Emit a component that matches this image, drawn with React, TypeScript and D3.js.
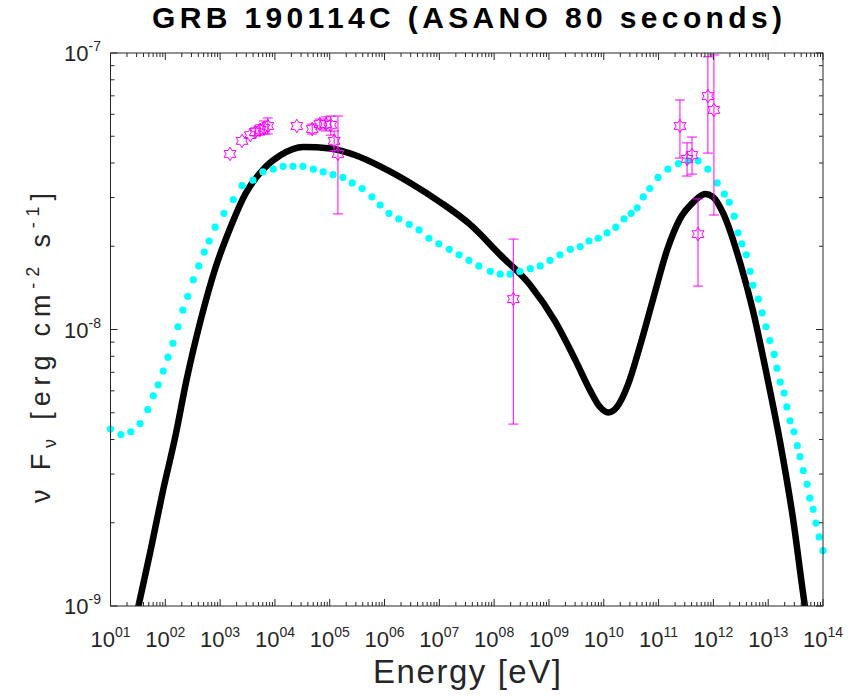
import React from "react";
import * as d3 from "d3";

// black model curve (log10 E [eV], log10 nuFnu)
const modelLogE = [1.40, 1.51, 1.73, 1.95, 2.19, 2.39, 2.64, 2.91, 3.19, 3.46, 3.79, 4.10, 4.52, 5.01, 5.47, 5.92, 6.47, 7.02, 7.56, 8.11, 8.66, 9.11, 9.48, 9.75, 9.93, 10.08, 10.24, 10.44, 10.66, 10.90, 11.16, 11.39, 11.63, 11.85, 11.99, 12.18, 12.49, 12.72, 12.98, 13.22, 13.45, 13.67, 13.75];
const modelLogF = [-9.10, -9.00, -8.80, -8.59, -8.38, -8.18, -7.97, -7.78, -7.63, -7.51, -7.42, -7.37, -7.34, -7.345, -7.37, -7.41, -7.47, -7.54, -7.62, -7.73, -7.84, -7.97, -8.11, -8.22, -8.28, -8.30, -8.28, -8.20, -8.06, -7.89, -7.71, -7.60, -7.54, -7.51, -7.52, -7.58, -7.76, -7.93, -8.17, -8.41, -8.68, -9.00, -9.10];

// cyan dotted model
const dotLogE = [1.00, 1.19, 1.37, 1.54, 1.68, 1.78, 1.87, 1.96, 2.05, 2.14, 2.23, 2.32, 2.41, 2.51, 2.61, 2.71, 2.80, 2.91, 3.07, 3.24, 3.40, 3.60, 3.78, 3.97, 4.15, 4.33, 4.51, 4.70, 4.88, 5.06, 5.24, 5.41, 5.59, 5.77, 5.92, 6.08, 6.26, 6.45, 6.63, 6.81, 6.99, 7.18, 7.36, 7.54, 7.72, 7.93, 8.11, 8.29, 8.47, 8.66, 8.84, 9.02, 9.20, 9.39, 9.57, 9.73, 9.90, 10.06, 10.22, 10.37, 10.50, 10.61, 10.72, 10.84, 10.99, 11.17, 11.36, 11.54, 11.72, 11.90, 12.07, 12.20, 12.29, 12.38, 12.45, 12.52, 12.60, 12.67, 12.72, 12.82, 12.89, 12.96, 13.03, 13.11, 13.16, 13.22, 13.29, 13.34, 13.40, 13.47, 13.53, 13.58, 13.64, 13.71, 13.76, 13.82, 13.87, 13.93, 14.00];
const dotLogF = [-8.36, -8.38, -8.37, -8.34, -8.29, -8.24, -8.20, -8.15, -8.10, -8.05, -7.99, -7.93, -7.88, -7.82, -7.77, -7.72, -7.68, -7.63, -7.58, -7.53, -7.48, -7.46, -7.43, -7.42, -7.41, -7.41, -7.41, -7.42, -7.43, -7.44, -7.45, -7.47, -7.49, -7.52, -7.55, -7.58, -7.60, -7.62, -7.64, -7.67, -7.69, -7.71, -7.73, -7.75, -7.77, -7.79, -7.80, -7.80, -7.79, -7.78, -7.77, -7.75, -7.73, -7.71, -7.70, -7.68, -7.67, -7.65, -7.63, -7.60, -7.58, -7.56, -7.52, -7.49, -7.45, -7.42, -7.40, -7.39, -7.39, -7.42, -7.47, -7.51, -7.54, -7.59, -7.65, -7.69, -7.73, -7.79, -7.84, -7.89, -7.94, -7.99, -8.04, -8.09, -8.14, -8.19, -8.23, -8.28, -8.33, -8.37, -8.42, -8.46, -8.51, -8.56, -8.61, -8.65, -8.70, -8.75, -8.80];

// observed points with error bars
const obsLogE = [3.18, 3.40, 3.55, 3.64, 3.73, 3.80, 3.87, 4.40, 4.68, 4.82, 4.93, 5.02, 5.08, 5.15, 8.35, 11.39, 11.52, 11.61, 11.72, 11.90, 12.01];
const obsLogF = [-7.365, -7.318, -7.297, -7.286, -7.278, -7.271, -7.264, -7.264, -7.275, -7.257, -7.257, -7.260, -7.318, -7.365, -7.890, -7.264, -7.383, -7.369, -7.655, -7.156, -7.206];
const obsLogHi = [-7.365, -7.318, -7.297, -7.271, -7.260, -7.246, -7.235, -7.264, -7.257, -7.239, -7.231, -7.228, -7.282, -7.228, -7.673, -7.170, -7.325, -7.304, -7.528, -7.014, -7.007];
const obsLogLo = [-7.365, -7.318, -7.297, -7.300, -7.297, -7.293, -7.293, -7.264, -7.293, -7.275, -7.282, -7.297, -7.354, -7.582, -8.342, -7.380, -7.445, -7.438, -7.843, -7.362, -7.586];

const xDecades = d3.range(1, 15);
const yDecades = [-9, -8, -7];

const W = 849;
const H = 696;
const left = 110.5;
const right = 823;
const top = 53;
const bottom = 606;

const tickColor = "#262626";
const font = "'Liberation Sans', Arial, Helvetica, sans-serif";

function hexagram(cx: number, cy: number, R: number) {
  const r = R / Math.sqrt(3);
  const pts: string[] = [];
  for (let i = 0; i < 12; i++) {
    const a = -Math.PI / 2 + (i * Math.PI) / 6;
    const rad = i % 2 === 0 ? R : r;
    pts.push(`${cx + rad * Math.cos(a)},${cy + rad * Math.sin(a)}`);
  }
  return "M" + pts.join("L") + "Z";
}

export default function App() {
  const x = d3.scaleLog().domain([1e1, 1e14]).range([left, right]);
  const y = d3.scaleLog().domain([1e-9, 1e-7]).range([bottom, top]);

  const model = modelLogE.map((e, i) => [Math.pow(10, e), Math.pow(10, modelLogF[i])]);
  const dots = dotLogE.map((e, i) => [Math.pow(10, e), Math.pow(10, dotLogF[i])]);
  const obs = obsLogE.map((e, i) => ({
    e: Math.pow(10, e),
    f: Math.pow(10, obsLogF[i]),
    hi: Math.pow(10, obsLogHi[i]),
    lo: Math.pow(10, obsLogLo[i]),
  }));

  const line = d3
    .line<number[]>()
    .x((d) => x(d[0]))
    .y((d) => y(d[1]))
    .curve(d3.curveMonotoneX);

  const xMinor: number[] = [];
  xDecades.slice(0, -1).forEach((d) => {
    for (let k = 2; k <= 9; k++) xMinor.push(k * Math.pow(10, d));
  });
  const yMinor: number[] = [];
  yDecades.slice(0, -1).forEach((d) => {
    for (let k = 2; k <= 9; k++) yMinor.push(k * Math.pow(10, d));
  });

  const pad = (n: number) => (n < 10 ? "0" + n : "" + n);

  return (
    <svg width={W} height={H} style={{ position: "absolute", left: 0, top: 0, background: "#fff" }}>
      <defs>
        <clipPath id="plotclip">
          <rect x={left} y={top} width={right - left} height={bottom - top} />
        </clipPath>
      </defs>

      {/* title */}
      <text x={467} y={28} textAnchor="middle" fontFamily={font} fontWeight="bold" fontSize={30} textLength={630} lengthAdjust="spacing" fill="#000">
        GRB 190114C (ASANO 80 seconds)
      </text>

      {/* black model */}
      <path d={line(model) || ""} fill="none" stroke="#000" strokeWidth={6.5} strokeLinejoin="round" clipPath="url(#plotclip)" />

      {/* cyan dotted model */}
      {dots.map((d, i) => (
        <circle key={i} cx={x(d[0])} cy={y(d[1])} r={3.6} fill="#00ffff" />
      ))}

      {/* observations */}
      <g stroke="#ff00ff" strokeWidth={1} fill="none">
        {obs.map((d, i) => {
          const cx = x(d.e);
          const yh = y(d.hi);
          const yl = y(d.lo);
          return (
            <g key={i}>
              {yl - yh > 1 && (
                <>
                  <line x1={cx} x2={cx} y1={yh} y2={yl} />
                  <line x1={cx - 5} x2={cx + 5} y1={yh} y2={yh} />
                  <line x1={cx - 5} x2={cx + 5} y1={yl} y2={yl} />
                </>
              )}
              <path d={hexagram(cx, y(d.f), 6.8)} />
            </g>
          );
        })}
      </g>

      {/* axes box */}
      <rect x={left} y={top} width={right - left} height={bottom - top} fill="none" stroke={tickColor} strokeWidth={1} />

      {/* ticks */}
      <g stroke={tickColor} strokeWidth={1}>
        {xDecades.map((d) => {
          const px = x(Math.pow(10, d));
          return (
            <g key={"xM" + d}>
              <line x1={px} x2={px} y1={bottom} y2={bottom - 7} />
              <line x1={px} x2={px} y1={top} y2={top + 7} />
            </g>
          );
        })}
        {xMinor.map((v, i) => {
          const px = x(v);
          return (
            <g key={"xm" + i}>
              <line x1={px} x2={px} y1={bottom} y2={bottom - 4} />
              <line x1={px} x2={px} y1={top} y2={top + 4} />
            </g>
          );
        })}
        {yDecades.map((d) => {
          const py = y(Math.pow(10, d));
          return (
            <g key={"yM" + d}>
              <line x1={left} x2={left + 7} y1={py} y2={py} />
              <line x1={right} x2={right - 7} y1={py} y2={py} />
            </g>
          );
        })}
        {yMinor.map((v, i) => {
          const py = y(v);
          return (
            <g key={"ym" + i}>
              <line x1={left} x2={left + 4} y1={py} y2={py} />
              <line x1={right} x2={right - 4} y1={py} y2={py} />
            </g>
          );
        })}
      </g>

      {/* tick labels */}
      <g fontFamily={font} fill={tickColor}>
        {xDecades.map((d) => (
          <text key={"xl" + d} x={x(Math.pow(10, d))} y={647} textAnchor="middle" fontSize={22}>
            <tspan>10</tspan>
            <tspan dy={-10} fontSize={14}>{pad(d)}</tspan>
          </text>
        ))}
        {yDecades.map((d) => (
          <text key={"yl" + d} x={101} y={y(Math.pow(10, d)) + 8} textAnchor="end" fontSize={22}>
            <tspan>10</tspan>
            <tspan dy={-10} fontSize={14}>{d}</tspan>
          </text>
        ))}
      </g>

      {/* axis labels */}
      <text x={467} y={683} textAnchor="middle" fontFamily={font} fontSize={33} textLength={188} lengthAdjust="spacing" fill={tickColor}>
        Energy [eV]
      </text>
      <text transform="translate(50,348) rotate(-90)" textAnchor="middle" fontFamily={font} fontSize={27} textLength={310} lengthAdjust="spacing" fill={tickColor}>
        <tspan>ν F</tspan>
        <tspan dy={6} fontSize={18}>ν</tspan>
        <tspan dy={-6}> [erg cm</tspan>
        <tspan dy={-11} fontSize={18}>-2</tspan>
        <tspan dy={11}> s</tspan>
        <tspan dy={-11} fontSize={18}>-1</tspan>
        <tspan dy={11}>]</tspan>
      </text>
    </svg>
  );
}
